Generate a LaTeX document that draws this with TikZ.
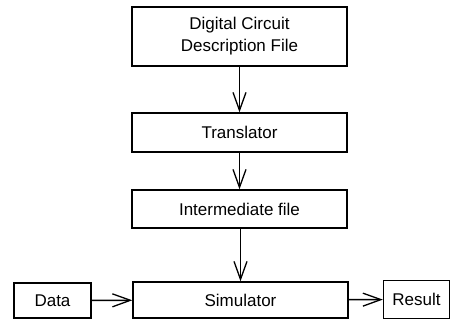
\documentclass[tikz,border=0pt]{standalone}
\usepackage{fontspec}
\setmainfont{Liberation Sans}
\usetikzlibrary{arrows.meta}
\tikzset{
  block/.style={draw, line width=1.4pt, inner sep=0pt, align=center,
    font=\fontsize{17}{22}\selectfont},
  flow/.style={line width=1.4pt, -{Straight Barb[length=18pt,width=13pt,line width=1.3pt]}},
}
\begin{document}
\begin{tikzpicture}[x=1pt,y=-1pt]
  \useasboundingbox (0,0) rectangle (452,320);
  \node[block, minimum width=215pt, minimum height=59pt] (desc) at (239.5,36.5)
    {Digital Circuit\\Description File};
  \node[block, minimum width=215pt, minimum height=39pt] (trans) at (239.5,132.5) {Translator};
  \node[block, minimum width=215pt, minimum height=38pt] (inter) at (239.5,209) {Intermediate file};
  \node[block, minimum width=215pt, minimum height=36pt] (sim) at (240.5,300) {Simulator};
  \node[block, minimum width=77pt, minimum height=35pt] (data) at (52.5,300.5) {Data};
  \node[block, minimum width=66pt, minimum height=38pt] (result) at (416.5,299.5) {Result};

  \draw[flow] (desc) -- (trans);
  \draw[flow] (trans) -- (inter);
  \draw[flow] (inter.south -| sim.north) -- (sim.north);
  \draw[flow] (data) -- (sim);
  \draw[flow] (sim) -- (result);
\end{tikzpicture}
\end{document}
